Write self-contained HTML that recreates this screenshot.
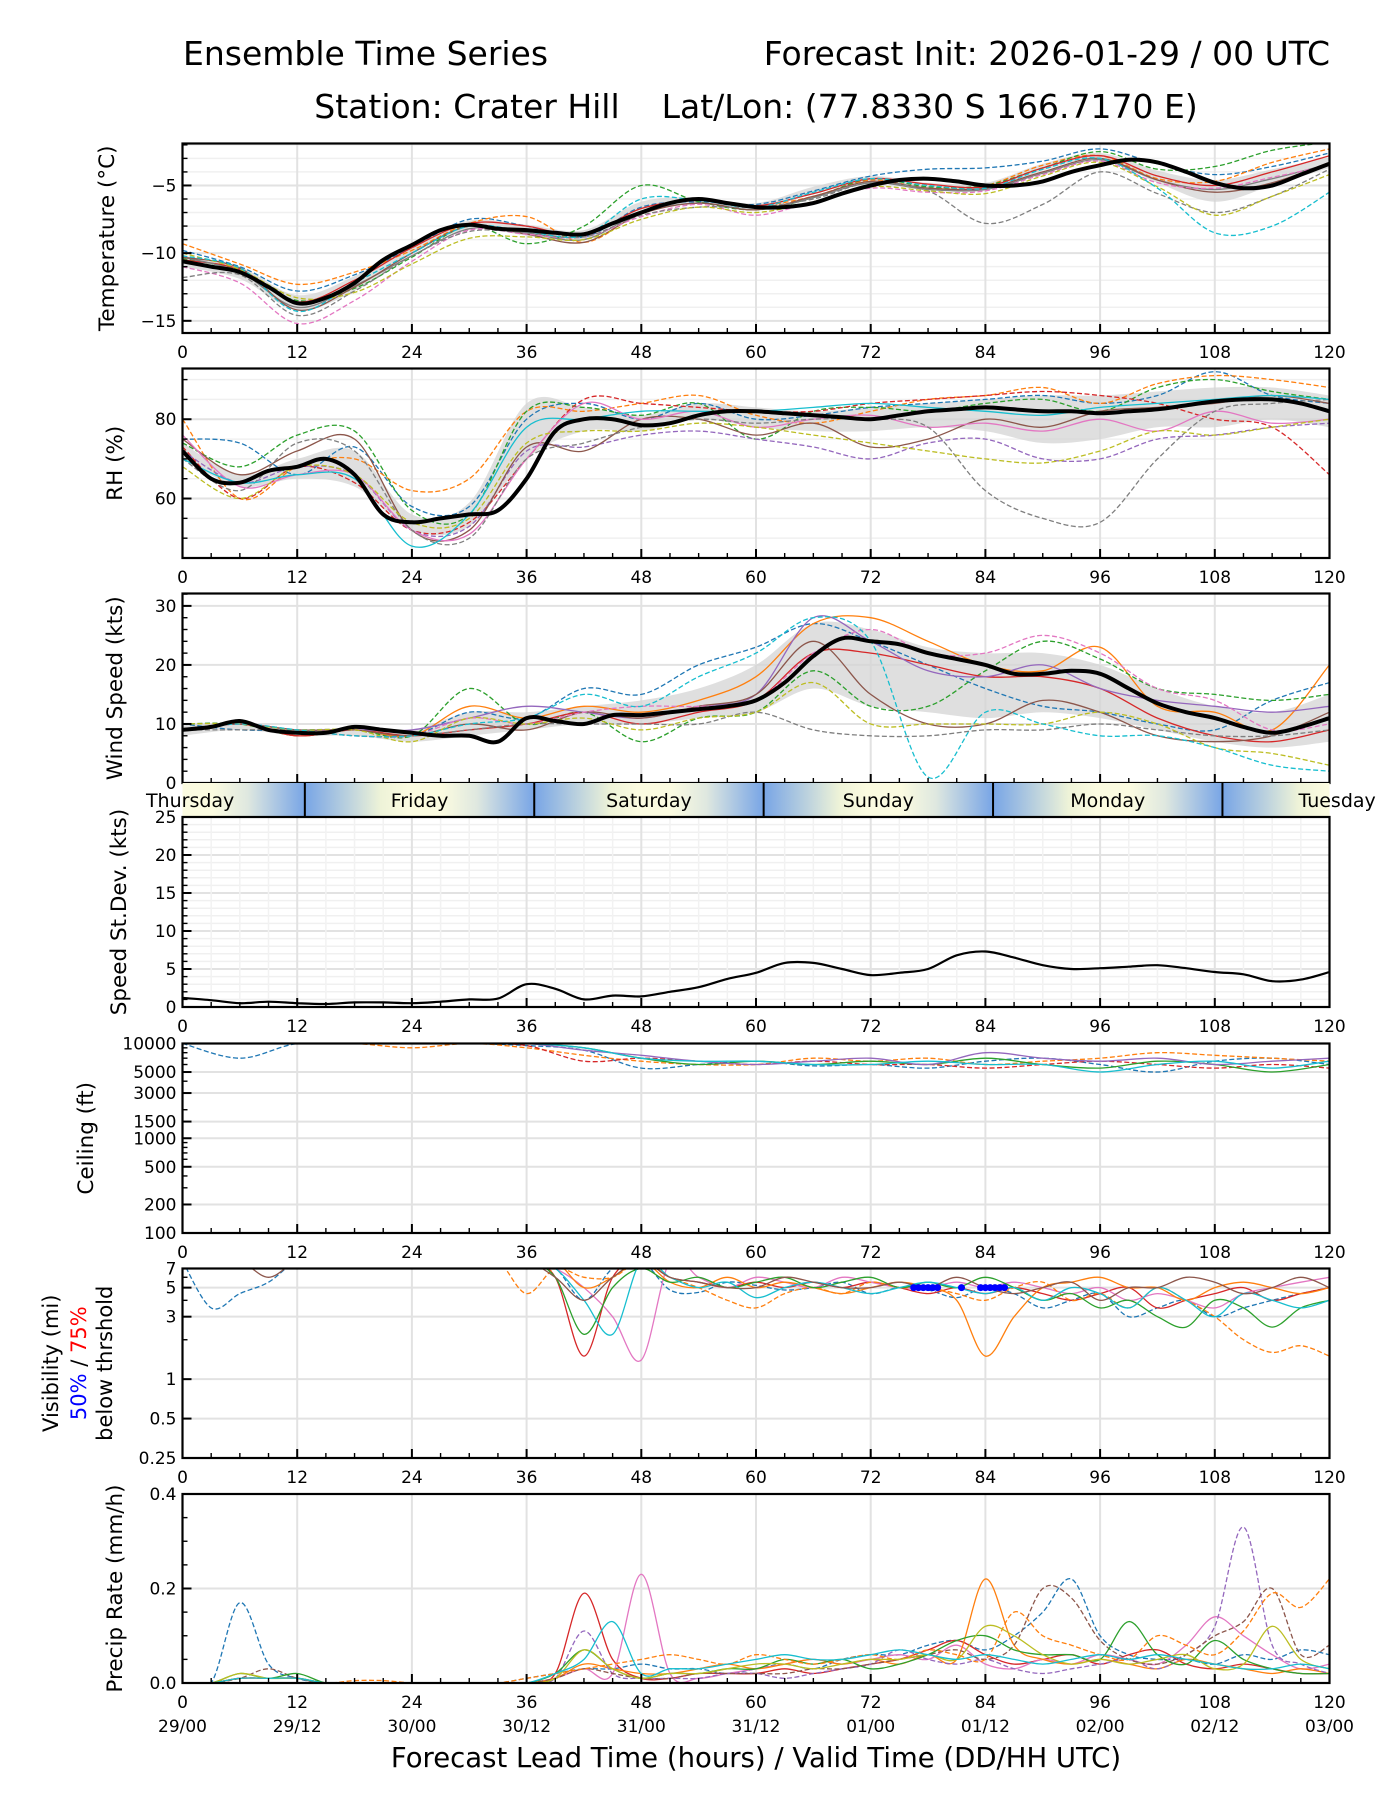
<!DOCTYPE html>
<html><head><meta charset="utf-8"><title>Ensemble Time Series</title>
<style>
html,body{margin:0;padding:0;background:#fff;}
svg{display:block;font-family:"DejaVu Sans","Liberation Sans",sans-serif;}
</style></head>
<body>
<svg id="chart" xmlns="http://www.w3.org/2000/svg" width="1400" height="1800" viewBox="0 0 1400 1800">
<rect x="0" y="0" width="1400" height="1800" fill="#fff"/>
<text x="183" y="65" font-size="33">Ensemble Time Series</text>
<text x="1330" y="65" font-size="33" text-anchor="end">Forecast Init: 2026-01-29 / 00 UTC</text>
<text x="756" y="118" font-size="33" text-anchor="middle" xml:space="preserve">Station: Crater Hill    Lat/Lon: (77.8330 S 166.7170 E)</text>
<text x="756" y="1767" font-size="27.5" text-anchor="middle">Forecast Lead Time (hours) / Valid Time (DD/HH UTC)</text>
<g id="layer"></g>
</svg>
<script>
// ---------- DATA ----------
const hours3 = [0,3,6,9,12,15,18,21,24,27,30,33,36,39,42,45,48,51,54,57,60,63,66,69,72,75,78,81,84,87,90,93,96,99,102,105,108,111,114,117,120];
const hours6 = [0,6,12,18,24,30,36,42,48,54,60,66,72,78,84,90,96,102,108,114,120];
const xTickLabels = ["0","12","24","36","48","60","72","84","96","108","120"];
const dateLabels = ["29/00","29/12","30/00","30/12","31/00","31/12","01/00","01/12","02/00","02/12","03/00"];
const dayNames = ["Thursday","Friday","Saturday","Sunday","Monday","Tuesday"];
const dayBoundaries = [12.8,36.8,60.8,84.8,108.8];

const tempMean = [-10.6,-11.0,-11.4,-12.5,-13.7,-13.3,-12.2,-10.5,-9.4,-8.3,-7.9,-8.2,-8.3,-8.5,-8.6,-7.8,-7.0,-6.3,-6.0,-6.3,-6.6,-6.6,-6.3,-5.6,-5.0,-4.6,-4.5,-4.7,-5.0,-5.0,-4.7,-4.0,-3.5,-3.1,-3.3,-4.0,-4.8,-5.2,-5.0,-4.2,-3.4];
const tempLo = [-11.0,-11.9,-14.2,-12.8,-10.1,-8.2,-8.7,-9.0,-6.8,-6.3,-6.8,-5.6,-4.8,-5.2,-5.4,-3.9,-3.0,-4.8,-6.2,-5.0,-3.7];
const tempHi = [-10.2,-11.0,-13.1,-11.7,-9.3,-7.6,-7.9,-8.3,-6.2,-5.9,-6.3,-5.1,-4.3,-4.8,-4.8,-3.4,-2.6,-3.9,-4.6,-3.8,-2.9];
const tempM1 = [-9.8,-11.0,-12.8,-11.6,-9.6,-7.5,-8.0,-8.8,-6.6,-6.2,-6.4,-5.4,-4.3,-3.8,-3.7,-3.2,-2.3,-3.4,-4.2,-3.6,-2.6];
const tempM2 = [-9.3,-10.8,-12.3,-11.4,-9.8,-7.8,-7.3,-9.2,-7.0,-6.0,-6.5,-5.8,-4.6,-5.2,-5.0,-3.5,-2.8,-4.5,-4.7,-3.3,-2.3];
const tempM3 = [-10.4,-11.3,-13.5,-12.6,-10.3,-8.0,-9.3,-8.0,-5.0,-6.2,-6.8,-5.9,-4.5,-5.1,-5.0,-3.7,-2.5,-3.8,-3.6,-2.4,-1.8];
const tempM4 = [-10.5,-11.2,-13.6,-12.0,-9.6,-7.8,-8.0,-8.7,-6.7,-6.1,-6.5,-5.6,-4.5,-4.9,-5.1,-3.7,-2.8,-4.3,-5.0,-4.0,-2.8];
const tempM5 = [-10.3,-11.4,-14.0,-12.4,-10.2,-8.2,-8.5,-9.0,-7.0,-6.3,-6.8,-5.9,-4.8,-5.3,-5.3,-4.1,-3.1,-4.6,-5.3,-4.5,-3.4];
const tempM6 = [-10.3,-11.1,-14.2,-12.5,-10.0,-8.0,-8.6,-9.2,-7.1,-6.3,-6.8,-5.8,-4.7,-5.2,-5.2,-4.0,-3.0,-4.6,-5.5,-4.8,-3.3];
const tempM7 = [-11.0,-12.2,-15.2,-13.5,-10.6,-8.3,-8.6,-8.8,-7.3,-6.4,-7.2,-6.2,-5.2,-5.5,-5.4,-4.2,-3.2,-4.8,-5.2,-4.4,-3.5];
const tempM8 = [-11.8,-11.6,-14.6,-12.8,-10.2,-8.4,-8.5,-8.8,-7.2,-6.6,-6.6,-6.0,-4.8,-5.4,-7.8,-6.4,-4.0,-5.6,-7.0,-5.8,-3.8];
const tempM9 = [-10.0,-11.2,-13.3,-12.9,-10.8,-8.9,-8.8,-9.0,-7.5,-6.6,-7.0,-6.2,-5.1,-5.4,-5.6,-4.3,-3.3,-5.1,-7.2,-5.8,-4.2];
const tempM10 = [-10.2,-11.1,-14.3,-12.2,-10.0,-8.0,-8.4,-8.7,-6.0,-6.1,-6.6,-5.5,-4.5,-5.0,-5.2,-3.8,-3.0,-5.2,-8.5,-8.0,-5.5];

const rhMean = [72,65,64,67,68,70,66,56,54,55,56,57,65,77,80,80,78.5,79,81,82,82,81.5,81,80.5,80,81,82,82.5,83,82.5,82,82,81.5,82,82.5,83.5,84.5,85,85,84,82];
const rhLo = [70,63,65,63,52,53,70,77,77,80,78,77,77,78,77,74,75,78,78,80,78];
const rhHi = [74,66,70,72,56,59,84,83,81,84,83,82,83,84,85,86,86,87,88,88,86];
const rhM1 = [75,74,66,73,58,58,80,84,80,84,80,81,83,84,85,86,84,86,92,86,84];
const rhM2 = [80,60,68,70,62,65,82,82,84,86,81,79,82,85,86,88,84,89,91,90,88];
const rhM3 = [74,68,76,77,57,56,82,83,81,84,75,82,83,82,84,85,82,88,90,87,85];
const rhM4 = [73,60,68,64,52,54,70,85,84,83,82,82,84,85,86,87,86,84,80,78,66];
const rhM5 = [72,64,68,66,52,53,72,73,76,77,75,73,70,74,75,70,70,75,76,78,79];
const rhM6 = [75,66,72,75,52,52,73,72,80,80,76,79,73,75,80,78,82,83,84,86,84];
const rhM7 = [76,63,66,66,52,51,70,84,80,82,78,80,81,78,79,77,80,77,82,79,80];
const rhM8 = [70,62,74,72,52,50,70,74,78,80,79,80,80,78,62,55,54,70,82,84,85];
const rhM9 = [68,60,68,66,54,55,74,77,77,79,78,76,74,72,70,69,72,77,76,78,80];
const rhM10 = [70,64,66,65,48,56,78,80,82,82,82,83,84,83,82,81,83,84,85,86,85];

const windMean = [9,9.5,10.5,9,8.5,8.5,9.5,9,8.5,8,8,7,11,10.5,10,11.5,11.5,12,12.5,13,14,17,21.5,24.5,24,23.5,22,21,20,18.5,18.5,19,18.5,16,13.5,12,11,9.5,8.5,9.5,11];
const windLo = [8,9,8,8,7,8,9,10,10,11,12,16,13,12,11,12,11,9,7,6,7];
const windHi = [10,10,9,9,9,12,12,13,14,16,20,27,26,23,22,22,20,16,13,12,15];
const windM1 = [10,9,9,9,8,12,11,16,15,20,23,27,24,20,16,13,12,10,9,14,17];
const windM2 = [9,10,8,9,8,13,11,13,12,14,18,27,28,24,20,19,23,13,12,9,20];
const windM3 = [10,10,8,9,8,16,10,12,7,11,12,19,13,13,19,24,21,16,15,14,15];
const windM4 = [9,10,8,9,8,9,10,12,10,12,14,22,22,20,18,18,16,11,8,7,9];
const windM5 = [9,10,9,9,9,11,13,12,11,13,15,28,24,19,18,20,16,14,13,12,13];
const windM6 = [9,10,9,9,8,10,9,12,11,13,15,24,15,10,10,14,12,8,7,8,12];
const windM7 = [9,10,9,8,8,11,10,12,13,13,14,22,26,22,22,25,22,16,14,9,10];
const windM8 = [9,9,9,8,8,9,10,10,10,10,12,9,8,8,9,9,10,9,8,8,9];
const windM9 = [10,10,9,9,7,11,10,11,9,11,12,17,10,10,10,10,12,10,6,5,3];
const windM10 = [9,10,9,8,8,10,11,15,13,18,22,28,24,1,12,10,8,8,6,3,2];

const stdevSeries = [1.2,0.9,0.5,0.7,0.5,0.4,0.6,0.6,0.5,0.7,1.0,1.1,3.0,2.4,1.0,1.5,1.4,2.0,2.6,3.7,4.5,5.8,5.8,5.0,4.2,4.5,5.0,6.8,7.3,6.5,5.5,5.0,5.1,5.3,5.5,5.1,4.6,4.3,3.4,3.6,4.6];

const ceilM1 = [10000,7000,10000,10000,10000,10000,9500,8500,5500,6000,6500,5800,6000,5500,6500,7000,6000,5000,6500,7000,6000];
const ceilM2 = [10000,10000,10000,10000,9000,10000,9000,7500,6500,6000,6000,7000,6500,7000,6000,6500,7000,8000,7500,7000,6500];
const ceilM3 = [10000,10000,10000,10000,10000,10000,9500,6500,7000,6500,6000,6500,6000,6000,5500,6000,6500,6000,5500,6000,5500];
const ceilM4 = [10000,10000,10000,10000,10000,10000,10000,9000,7000,6000,6500,6000,6500,6000,7000,6000,5500,6500,6000,5000,6000];
const ceilM5 = [10000,10000,10000,10000,10000,10000,10000,8500,7500,6500,6000,6500,7000,6000,8000,7000,6500,7000,6000,6500,7000];
const ceilM6 = [10000,10000,10000,10000,10000,10000,10000,9000,7000,6500,6500,6000,6000,6500,6000,6000,5000,6000,6500,5500,6500];

const visM1 = [8,3.5,4.5,5.5,8,8,8,8,8,8,8,8,7,7,4,7,8,4.8,4.6,5.5,5.2,4.8,5,5.5,4.5,5,4.8,4.2,5,4.5,3.5,4,4.5,3,3.5,4,3,3.5,4,4.5,5];
const visM2 = [8,8,8,8,8,8,8,8,8,8,8,8,8,6,1.5,6,8,6,5.5,5,5.5,5,5.5,5,5.5,5,4.5,5,4.5,5,4.5,4,4.5,5,3.5,4,4.5,5,4,4.5,5];
const visM3 = [8,8,8,8,8,8,8,8,8,8,8,8,8,7,5,3,1.4,8,6,5,6,5.5,5,6,5.5,5,5,5.5,5,5.5,5,4.5,5,4,4.5,4,3.5,4.5,5,5.5,6];
const visM4 = [8,8,8,8,8,8,8,8,8,8,8,8,4.5,7,6,6,8,6,5,4,3.5,4.5,5,4.5,5.5,5,5,4.5,4,5,5.5,4,4.5,3.5,5,4,3,2,1.6,1.8,1.5];
const visM5 = [8,8,8,8,8,8,8,8,8,8,8,8,8,8,5,6,8,5.5,5,6,5,5.5,5,4.5,5,5.5,5,4,1.5,3,5,5.5,6,5,5,4,5,5.5,5,4.5,5];
const visM6 = [8,8,8,8,8,8,8,8,8,8,8,8,8,6,2.2,5,7,5.5,6,5,5.5,6,5,5.5,6,5,5.5,5,6,5,4,4.5,3.5,4,3,2.5,4,3.5,2.5,3.5,4];
const visM7 = [8,8,8,8,8,8,8,8,8,8,8,8,8,7,4,2.2,8,6,5,5.5,4.2,5,5.5,5,4.5,5,5.5,5,4.5,5,4,5,4.5,3.5,5,4,3,4.5,4,3.5,4];
const visM8 = [8,8,8,6,8,8,8,8,8,8,8,8,8,6,4,6,8,6,5.5,5,5,6,5.5,5,5,5.5,5,6,5,4.5,5,5.5,4,5,5,6,5.5,4.5,5,6,5];
const visThreshHours = [76.5,77,77.5,78,78.5,79,81.5,83.5,84,84.5,85,85.5,86];
const visThreshValue = 5;

const precipM1 = [0,0,0.17,0.04,0.01,0,0,0,0,0,0,0,0.01,0.02,0.03,0.03,0.04,0.03,0.03,0.02,0.03,0.04,0.03,0.05,0.06,0.06,0.08,0.09,0.07,0.1,0.15,0.22,0.1,0.06,0.05,0.05,0.04,0.06,0.05,0.07,0.06];
const precipM2 = [0,0,0.01,0.01,0.01,0,0,0,0,0,0,0,0,0.02,0.19,0.05,0.01,0.01,0.02,0.02,0.02,0.03,0.02,0.03,0.04,0.05,0.07,0.09,0.06,0.04,0.05,0.06,0.04,0.06,0.07,0.04,0.03,0.04,0.03,0.02,0.02];
const precipM3 = [0,0,0.01,0.01,0.01,0,0,0,0,0,0,0,0,0.01,0.03,0.02,0.23,0.02,0.01,0.02,0.03,0.04,0.05,0.04,0.05,0.06,0.05,0.08,0.04,0.03,0.05,0.04,0.06,0.05,0.04,0.08,0.14,0.1,0.06,0.03,0.04];
const precipM4 = [0,0,0.01,0.01,0.01,0,0,0,0,0,0,0,0,0.01,0.04,0.03,0.02,0.02,0.03,0.04,0.03,0.04,0.05,0.04,0.05,0.04,0.06,0.05,0.22,0.08,0.05,0.04,0.05,0.04,0.03,0.05,0.04,0.03,0.02,0.03,0.02];
const precipM5 = [0,0,0.01,0.01,0.01,0,0,0,0,0,0,0,0,0.01,0.11,0.02,0.01,0.01,0.01,0.02,0.02,0.01,0.02,0.03,0.04,0.07,0.05,0.04,0.05,0.03,0.02,0.03,0.04,0.05,0.03,0.06,0.12,0.33,0.08,0.04,0.02];
const precipM6 = [0,0,0.01,0.03,0.01,0,0,0,0,0,0,0,0,0.01,0.03,0.02,0.01,0.01,0.02,0.02,0.02,0.02,0.03,0.03,0.04,0.05,0.06,0.07,0.05,0.08,0.2,0.18,0.09,0.05,0.04,0.06,0.1,0.13,0.2,0.06,0.08];
const precipM7 = [0,0,0.02,0.01,0.02,0,0,0,0,0,0,0,0,0.02,0.07,0.03,0.01,0.02,0.02,0.03,0.03,0.05,0.04,0.05,0.03,0.04,0.06,0.09,0.1,0.07,0.06,0.06,0.05,0.13,0.06,0.04,0.09,0.05,0.03,0.02,0.02];
const precipM8 = [0,0,0.01,0.01,0.01,0,0.005,0.005,0,0,0,0,0.01,0.02,0.03,0.04,0.05,0.06,0.05,0.04,0.06,0.05,0.04,0.05,0.06,0.05,0.07,0.06,0.05,0.15,0.1,0.08,0.06,0.05,0.1,0.08,0.06,0.11,0.19,0.16,0.22];
const precipM9 = [0,0,0.02,0.01,0.01,0,0,0,0,0,0,0,0,0.01,0.07,0.03,0.01,0.02,0.02,0.03,0.04,0.04,0.03,0.04,0.05,0.05,0.06,0.05,0.12,0.1,0.06,0.04,0.05,0.04,0.05,0.06,0.03,0.04,0.12,0.05,0.03];
const precipM10 = [0,0,0.01,0.01,0.01,0,0,0,0,0,0,0,0,0.02,0.05,0.13,0.02,0.03,0.03,0.04,0.05,0.06,0.05,0.05,0.06,0.07,0.06,0.05,0.06,0.05,0.04,0.05,0.06,0.05,0.06,0.05,0.04,0.03,0.03,0.04,0.03];

// ---------- DRAWING ----------
const NS = "http://www.w3.org/2000/svg";
const L = 182.5, R = 1329.5;
const layer = document.getElementById('layer');
const COLORS = ["#1f77b4","#ff7f0e","#2ca02c","#d62728","#9467bd","#8c564b","#e377c2","#7f7f7f","#bcbd22","#17becf"];
function xS(h){ return L + h*(R-L)/120; }
function mk(tag, attrs, parent){
  const e = document.createElementNS(NS, tag);
  for (const k in attrs) e.setAttribute(k, attrs[k]);
  (parent||layer).appendChild(e);
  return e;
}
function makeY(p){
  if (p.log){
    const a = Math.log10(p.ymin), b = Math.log10(p.ymax);
    return v => p.bottom - (Math.log10(v)-a)/(b-a)*(p.bottom-p.top);
  }
  return v => p.bottom - (v-p.ymin)/(p.ymax-p.ymin)*(p.bottom-p.top);
}
function smoothPath(xs, ys){
  const pts = xs.map((x,i)=>[x,ys[i]]);
  let d = "M" + pts[0][0].toFixed(1) + "," + pts[0][1].toFixed(1);
  for (let i=0;i<pts.length-1;i++){
    const p0 = pts[Math.max(0,i-1)], p1 = pts[i], p2 = pts[i+1], p3 = pts[Math.min(pts.length-1,i+2)];
    const c1x = p1[0]+(p2[0]-p0[0])/6, c1y = p1[1]+(p2[1]-p0[1])/6;
    const c2x = p2[0]-(p3[0]-p1[0])/6, c2y = p2[1]-(p3[1]-p1[1])/6;
    d += " C"+c1x.toFixed(1)+","+c1y.toFixed(1)+" "+c2x.toFixed(1)+","+c2y.toFixed(1)+" "+p2[0].toFixed(1)+","+p2[1].toFixed(1);
  }
  return d;
}
let clipCount = 0;
function panel(p){
  const g = mk('g', {});
  
  
  const y = makeY(p);
  const cid = 'clip' + (clipCount++);
  const cp = mk('clipPath', {id: cid}, g);
  mk('rect', {x:L, y:p.top, width:R-L, height:p.bottom-p.top}, cp);
  (p.minorGrid||[]).forEach(v => {
    const ln = mk('line', {x1:L, x2:R, y1:y(v), y2:y(v), stroke:'#f0f0f0', 'stroke-width':1.5}, g);
    
    
  });
  p.ticks.forEach(v => {
    const ln = mk('line', {x1:L, x2:R, y1:y(v), y2:y(v), stroke:'#e2e2e2', 'stroke-width':2}, g);
    
    
  });
  for (let h=12; h<120; h+=12){
    const ln = mk('line', {x1:xS(h), x2:xS(h), y1:p.top, y2:p.bottom, stroke:'#e2e2e2', 'stroke-width':2}, g);
    
    
  }
  const dg = mk('g', {'clip-path':'url(#'+cid+')'}, g);
  if (p.band){
    const xs = p.bandX.map(xS);
    const up = p.band[1].map(y), lo = p.band[0].map(y);
    let d = smoothPath(xs, up);
    const rx = xs.slice().reverse(), rl = lo.slice().reverse();
    d += " L" + smoothPath(rx, rl).slice(1) + " Z";
    const bp = mk('path', {d:d, fill:'#d4d4d4', 'fill-opacity':0.75, stroke:'none'}, dg);
    
    
  }
  (p.members||[]).forEach((m,i) => {
    const sty = p.styles[i];
    const path = mk('path', {d:smoothPath(p.memberX.map(xS), m.map(v=>y(v))), fill:'none', stroke:COLORS[sty[0]], 'stroke-width':1.3, 'stroke-dasharray': sty[1] ? '5,2.5' : 'none'}, dg);
    
    
  });
  if (p.mean){
    const path = mk('path', {d:smoothPath(hours3.map(xS), p.mean.map(v=>y(v))), fill:'none', stroke:'#000', 'stroke-width':p.meanWidth||4, 'stroke-linejoin':'round'}, dg);
    
    
  }
  if (p.extra) p.extra(dg, y);
  const fr = mk('rect', {x:L, y:p.top, width:R-L, height:p.bottom-p.top, fill:'none', stroke:'#000', 'stroke-width':2.2}, g);
  
  
  for (let h=0; h<=120; h+=3){
    const len = (h%12===0) ? 9 : 5;
    mk('line', {x1:xS(h), x2:xS(h), y1:p.bottom, y2:p.bottom-len, stroke:'#000', 'stroke-width':(h%12===0)?2:1.4}, g);
  }
  if (!p.noXLabels){
    xTickLabels.forEach((t,i) => {
      const tx = mk('text', {x:xS(i*12), y:p.bottom+25, 'font-size':17, 'text-anchor':'middle'}, g);
      
      
      tx.textContent = t;
    });
  }
  (p.minorTicks||[]).forEach(v => {
    mk('line', {x1:L, x2:L+5, y1:y(v), y2:y(v), stroke:'#000', 'stroke-width':1.4}, g);
  });
  p.ticks.forEach((v,i) => {
    mk('line', {x1:L, x2:L+9, y1:y(v), y2:y(v), stroke:'#000', 'stroke-width':2}, g);
    const tx = mk('text', {x:L-6, y:y(v)+6, 'font-size':17, 'text-anchor':'end'}, g);
    
    
    tx.textContent = p.tickLabels[i];
  });
  if (p.ylabel){
    const cy = (p.top+p.bottom)/2;
    const tx = mk('text', {x:p.ylabelX, y:cy, 'font-size':21.5, 'text-anchor':'middle', transform:'rotate(-90 '+p.ylabelX+' '+cy+')'}, g);
    
    
    tx.textContent = p.ylabel;
  }
  return {g:g, y:y};
}
function range(a,b,s){ const r=[]; for(let v=a; v<=b+1e-9; v+=s) r.push(+v.toFixed(4)); return r; }

panel({name:'temperature-panel', top:143.5, bottom:333, ymin:-15.9, ymax:-1.9,
  ticks:[-15,-10,-5], tickLabels:['\u221215','\u221210','\u22125'],
  minorTicks:range(-15,-2,1), minorGrid:range(-15,-2,1),
  band:[tempLo,tempHi], bandX:hours6, memberX:hours6,
  members:[tempM1,tempM2,tempM3,tempM4,tempM5,tempM6,tempM7,tempM8,tempM9,tempM10],
  styles:[[0,1],[1,1],[2,1],[3,0],[7,0],[5,0],[6,1],[7,1],[8,1],[9,1]],
  mean:tempMean, ylabel:'Temperature (\u00B0C)', ylabelName:'y-axis-title-temperature', ylabelX:114});

panel({name:'rh-panel', top:368.5, bottom:558, ymin:45, ymax:92.8,
  ticks:[60,80], tickLabels:['60','80'],
  minorTicks:range(50,90,5), minorGrid:range(50,90,5),
  band:[rhLo,rhHi], bandX:hours6, memberX:hours6,
  members:[rhM1,rhM2,rhM3,rhM4,rhM5,rhM6,rhM7,rhM8,rhM9,rhM10],
  styles:[[0,1],[1,1],[2,1],[3,1],[4,1],[5,0],[6,0],[7,1],[8,1],[9,0]],
  mean:rhMean, ylabel:'RH (%)', ylabelName:'y-axis-title-rh', ylabelX:122});

panel({name:'wind-speed-panel', top:593.5, bottom:783, ymin:0, ymax:32.1,
  ticks:[0,10,20,30], tickLabels:['0','10','20','30'],
  minorTicks:range(2,32,2), noXLabels:true,
  band:[windLo,windHi], bandX:hours6, memberX:hours6,
  members:[windM1,windM2,windM3,windM4,windM5,windM6,windM7,windM8,windM9,windM10],
  styles:[[0,1],[1,0],[2,1],[3,0],[4,0],[5,0],[6,1],[7,1],[8,1],[9,1]],
  mean:windMean, ylabel:'Wind Speed (kts)', ylabelName:'y-axis-title-wind', ylabelX:122});

(function(){
  const g = mk('g', {});
  
  
  const defs = mk('defs', {}, g);
  const lg = mk('linearGradient', {id:'dayGrad', x1:'0', x2:'1', y1:'0', y2:'0'}, defs);
  [[0,'#78a5e6'],[0.33,'#eef3d8'],[0.45,'#fbfbe0'],[0.6,'#fbfbe0'],[0.75,'#dfe8e0'],[1,'#78a5e6']].forEach(s => mk('stop', {offset:s[0], 'stop-color':s[1]}, lg));
  const cp = mk('clipPath', {id:'dayClip'}, g);
  mk('rect', {x:L, y:783, width:R-L, height:34}, cp);
  const inner = mk('g', {'clip-path':'url(#dayClip)'}, g);
  const starts = [dayBoundaries[0]-24].concat(dayBoundaries);
  starts.forEach((s,i) => {
    const r = mk('rect', {x:xS(s), y:783, width:xS(s+24)-xS(s), height:34, fill:'url(#dayGrad)'}, inner);
    
    
  });
  dayBoundaries.forEach(b => {
    mk('line', {x1:xS(b), x2:xS(b), y1:783, y2:817, stroke:'#000', 'stroke-width':2}, g);
  });
  starts.forEach((s,i) => {
    const t = mk('text', {x:xS(s+12), y:807, 'font-size':19, 'text-anchor':'middle'}, g);
    
    
    t.textContent = dayNames[i];
  });
})();

panel({name:'speed-stdev-panel', top:817, bottom:1007, ymin:0, ymax:25,
  ticks:[0,5,10,15,20,25], tickLabels:['0','5','10','15','20','25'],
  minorTicks:range(1,24,1), minorGrid:range(1,24,1),
  mean:stdevSeries, meanWidth:2.2, ylabel:'Speed St.Dev. (kts)', ylabelName:'y-axis-title-stdev', ylabelX:126,
  extra:function(dg){
    for (let h=3; h<120; h+=3){ if (h%12) { const l = mk('line', {x1:xS(h), x2:xS(h), y1:817, y2:1007, stroke:'#f2f2f2', 'stroke-width':1.5}, dg); dg.insertBefore(l, dg.firstChild); } }
  }});

panel({name:'ceiling-panel', top:1043.5, bottom:1233, ymin:100, ymax:10000, log:true,
  ticks:[100,200,500,1000,1500,3000,5000,10000], tickLabels:['100','200','500','1000','1500','3000','5000','10000'],
  minorTicks:[300,400,600,700,800,900,2000,4000,6000,7000,8000,9000],
  memberX:hours6, members:[ceilM1,ceilM2,ceilM3,ceilM4,ceilM5,ceilM6],
  styles:[[0,1],[1,1],[3,1],[2,0],[4,0],[9,0]],
  ylabel:'Ceiling (ft)', ylabelName:'y-axis-title-ceiling', ylabelX:93});

panel({name:'visibility-panel', top:1268.5, bottom:1458, ymin:0.25, ymax:7, log:true,
  ticks:[0.25,0.5,1,3,5,7], tickLabels:['0.25','0.5','1','3','5','7'],
  minorTicks:[2,4,6],
  memberX:hours3, members:[visM1,visM2,visM3,visM4,visM5,visM6,visM7,visM8],
  styles:[[0,1],[3,0],[6,0],[1,1],[1,0],[2,0],[9,0],[5,0]],
  extra:function(dg, y){
    visThreshHours.forEach(h => {
      const c = mk('circle', {cx:xS(h), cy:y(visThreshValue), r:3.5, fill:'#0000ff'}, dg);
      
      
    });
  }});
(function(){
  const cy = (1268.5+1458)/2;
  const t1 = mk('text', {x:58, y:cy, 'font-size':21, 'text-anchor':'middle', transform:'rotate(-90 58 '+cy+')'});
  
  
  t1.textContent = 'Visibility (mi)';
  const t2 = mk('text', {x:86, y:cy, 'font-size':21, 'text-anchor':'middle', transform:'rotate(-90 86 '+cy+')'});
  
  
  const s1 = mk('tspan', {fill:'#0000ff'}, t2); s1.textContent = '50%';
  const s2 = mk('tspan', {fill:'#000'}, t2); s2.textContent = ' / ';
  const s3 = mk('tspan', {fill:'#ff0000'}, t2); s3.textContent = '75%';
  const t3 = mk('text', {x:112, y:cy, 'font-size':21, 'text-anchor':'middle', transform:'rotate(-90 112 '+cy+')'});
  
  
  t3.textContent = 'below thrshold';
})();

panel({name:'precip-panel', top:1494, bottom:1683, ymin:0, ymax:0.4,
  ticks:[0,0.2,0.4], tickLabels:['0.0','0.2','0.4'],
  minorTicks:range(0.05,0.35,0.05),
  memberX:hours3, members:[precipM1,precipM2,precipM3,precipM4,precipM5,precipM6,precipM7,precipM8,precipM9,precipM10],
  styles:[[0,1],[3,0],[6,0],[1,0],[4,1],[5,1],[2,0],[1,1],[8,0],[9,0]],
  ylabel:'Precip Rate (mm/h)', ylabelName:'y-axis-title-precip', ylabelX:122});
dateLabels.forEach((t,i) => {
  const tx = mk('text', {x:xS(i*12), y:1732, 'font-size':17, 'text-anchor':'middle'});
  
  
  tx.textContent = t;
});
</script>
</body></html>
